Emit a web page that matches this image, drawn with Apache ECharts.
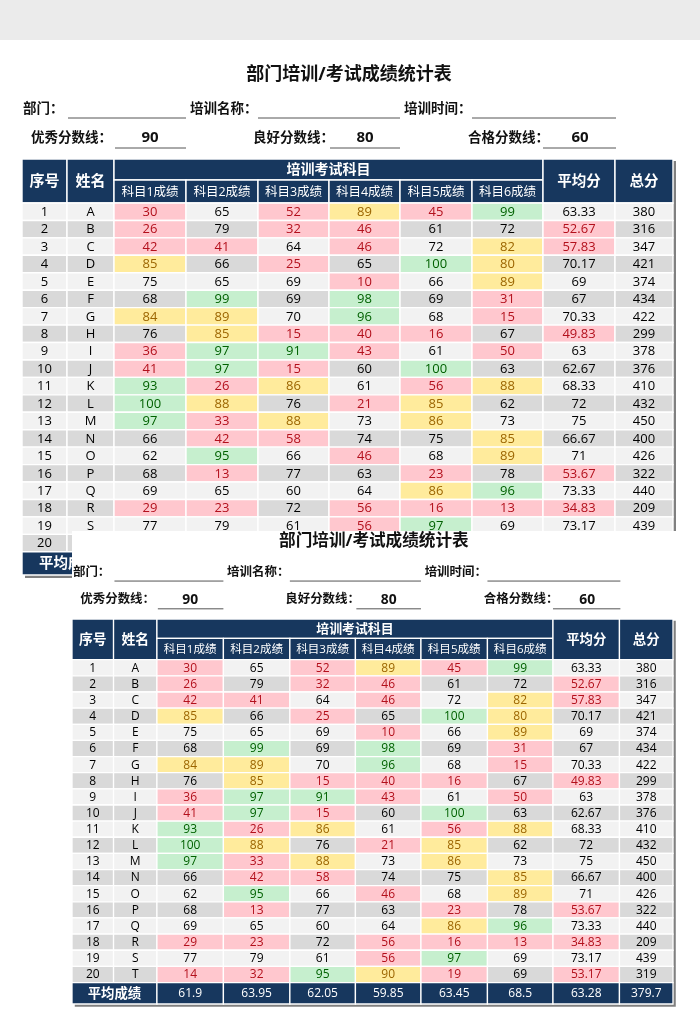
<!DOCTYPE html>
<html><head><meta charset="utf-8">
<script src="https://cdn.jsdelivr.net/npm/echarts@6/dist/echarts.min.js"></script>
<style>html,body{margin:0;padding:0;background:#fff}#c{width:700px;height:1030px}</style>
</head><body><div id="c"></div>
<script>
// ---------------- data ----------------
const titleText = '部门培训/考试成绩统计表';
const formLabels = ['部门：', '培训名称：', '培训时间：'];
const thresholdLabels = ['优秀分数线：', '良好分数线：', '合格分数线：'];
const thresholdValues = [90, 80, 60];
const headerLabels = ['序号', '姓名', '培训考试科目', '平均分', '总分'];
const subjects = ['科目1成绩', '科目2成绩', '科目3成绩', '科目4成绩', '科目5成绩', '科目6成绩'];
const serials = [1,2,3,4,5,6,7,8,9,10,11,12,13,14,15,16,17,18,19,20];
const names = ['A','B','C','D','E','F','G','H','I','J','K','L','M','N','O','P','Q','R','S','T'];
const subject1 = [30,26,42,85,75,68,84,76,36,41,93,100,97,66,62,68,69,29,77,14];
const subject2 = [65,79,41,66,65,99,89,85,97,97,26,88,33,42,95,13,65,23,79,32];
const subject3 = [52,32,64,25,69,69,70,15,91,15,86,76,88,58,66,77,60,72,61,95];
const subject4 = [89,46,46,65,10,98,96,40,43,60,61,21,73,74,46,63,64,56,56,90];
const subject5 = [45,61,72,100,66,69,68,16,61,100,56,85,86,75,68,23,86,16,97,19];
const subject6 = [99,72,82,80,89,31,15,67,50,63,88,62,73,85,89,78,96,13,69,69];
const averages = [63.33,52.67,57.83,70.17,69,67,70.33,49.83,63,62.67,68.33,72,75,66.67,71,53.67,73.33,34.83,73.17,53.17];
const totals = [380,316,347,421,374,434,422,299,378,376,410,432,450,400,426,322,440,209,439,319];
const avgRowLabel = '平均成绩';
const subjectAverages = [61.9,63.95,62.05,59.85,63.45,68.5];
const overallAverage = 63.28;
const totalAverage = 379.7;

// ---------------- layout / style ----------------
const FONT = "'Open Sans','Noto Sans CJK SC',sans-serif";
const NAVY = '#17375E', LIGHT = '#F2F2F2', DARK = '#D9D9D9';
const PINK = '#FFC7CE', RED = '#B3101C', YELLOW = '#FFEB9C', BROWN = '#9C6500', GREEN = '#C6EFCE', GREENTXT = '#006100';
const COL = [0,45,92,164,236,307,378,450,521,593,651];
const HEAD = [0,21,44];
const ROW_H = 17.44;
const TABLE_W = 651, TABLE_H = 416;
const COPIES = [
  {left:22, top:159, sx:1, sy:1, z:1},
  {left:72, top:619, sx:601/651, sy:385/416, z:10}
];

const scoreCols = [subject1, subject2, subject3, subject4, subject5, subject6];
function scoreStyle(v, rowFill) {
  if (v < 60) return [PINK, RED];
  if (v > 90) return [GREEN, GREENTXT];
  if (v >= 80) return [YELLOW, BROWN];
  return [rowFill, '#000'];
}

// build cells
const cells = [];
function add(x0,y0,x1,y1,fill,text,color,size,weight,kind){cells.push({v:[x0,y0,x1,y1],fill,text,color,size,weight,kind});}
add(0,0,TABLE_W,TABLE_H,'#808080','', '#000',0,'normal','shadow');
add(COL[0],HEAD[0],COL[1],HEAD[2],NAVY,headerLabels[0],'#fff',15,'bold');
add(COL[1],HEAD[0],COL[2],HEAD[2],NAVY,headerLabels[1],'#fff',15,'bold');
add(COL[2],HEAD[0],COL[8],HEAD[1],NAVY,headerLabels[2],'#fff',14,'bold');
subjects.forEach((s,k)=>add(COL[2+k],HEAD[1],COL[3+k],HEAD[2],NAVY,s,'#fff',12.5,'normal'));
add(COL[8],HEAD[0],COL[9],HEAD[2],NAVY,headerLabels[3],'#fff',14.5,'bold');
add(COL[9],HEAD[0],COL[10],HEAD[2],NAVY,headerLabels[4],'#fff',14.5,'bold');
serials.forEach((sn,i)=>{
  const y0 = HEAD[2] + i*ROW_H, y1 = y0 + ROW_H;
  const rf = i % 2 === 0 ? LIGHT : DARK;
  add(COL[0],y0,COL[1],y1,rf,String(sn),'#000',13,'normal');
  add(COL[1],y0,COL[2],y1,rf,names[i],'#000',13,'normal');
  scoreCols.forEach((arr,k)=>{
    const st = scoreStyle(arr[i], rf);
    add(COL[2+k],y0,COL[3+k],y1,st[0],String(arr[i]),st[1],13,'normal');
  });
  const a = averages[i];
  add(COL[8],y0,COL[9],y1,a<60?PINK:rf,String(a),a<60?RED:'#000',13,'normal');
  add(COL[9],y0,COL[10],y1,rf,String(totals[i]),'#000',13,'normal');
});
const avgTop = HEAD[2] + serials.length*ROW_H;
add(COL[0],avgTop,COL[2],TABLE_H,NAVY,avgRowLabel,'#fff',14.5,'bold');
subjectAverages.forEach((v,k)=>add(COL[2+k],avgTop,COL[3+k],TABLE_H,NAVY,String(v),'#fff',13,'normal'));
add(COL[8],avgTop,COL[9],TABLE_H,NAVY,String(overallAverage),'#fff',13,'normal');
add(COL[9],avgTop,COL[10],TABLE_H,NAVY,String(totalAverage),'#fff',13,'normal');

function makeRender(s){
  return function(params, api){
    const c = cells[params.dataIndex];
    const p0 = api.coord([api.value(0), api.value(1)]);
    const p1 = api.coord([api.value(2), api.value(3)]);
    const w = p1[0]-p0[0], h = p1[1]-p0[1];
    if (c.kind === 'shadow') {
      return {type:'rect', shape:{x:p0[0]+3*s, y:p0[1]+2*s, width:w, height:h+1*s}, style:{fill:c.fill}};
    }
    return {type:'group', children:[
      {type:'rect', shape:{x:p0[0], y:p0[1], width:w, height:h}, style:{fill:c.fill, stroke:'#ffffff', lineWidth:1.4*s}},
      {type:'text', x:p0[0]+w/2, y:p0[1]+h/2+0.5*s, style:{text:c.text, fill:c.color,
        font:c.weight+' '+(c.size*s).toFixed(2)+'px '+FONT,
        align:'center', verticalAlign:'middle', textAlign:'center', textVerticalAlign:'middle'}}
    ]};
  };
}

// form text layout relative to table origin (copy-1 px)
const FORM = {
  title:{x:327,y:-84,size:18},
  row1Y:-50, row1X:[1,168,382],
  line1Y:-41, line1:[[46,164],[236,378],[450,594]],
  row2Y:-21, row2X:[9,231,446], valX:[128,343,558],
  line2Y:-11, line2:[[93,164],[308,378],[521,594]],
  labelSize:13.5, valSize:15
};

const graphics = [{type:'rect', shape:{x:0,y:0,width:700,height:40}, style:{fill:'#EBEBEB'}, z:0}];
COPIES.forEach((cp,ci)=>{
  const X = rx => cp.left + rx*cp.sx, Y = ry => cp.top + ry*cp.sy, s = cp.sx;
  if (ci === 1) graphics.push({type:'rect', shape:{x:72,y:531,width:628,height:499}, style:{fill:'#ffffff'}, z:5});
  const z = cp.z;
  const txt = (x,y,t,size,align) => ({type:'text', x, y, z, style:{text:t, fill:'#111', font:'bold '+(size*s).toFixed(2)+'px '+FONT, align, verticalAlign:'middle', textAlign:align, textVerticalAlign:'middle'}});
  graphics.push(txt(X(FORM.title.x), Y(FORM.title.y), titleText, FORM.title.size, 'center'));
  formLabels.forEach((t,k)=>graphics.push(txt(X(FORM.row1X[k]), Y(FORM.row1Y), t, FORM.labelSize, 'left')));
  thresholdLabels.forEach((t,k)=>graphics.push(txt(X(FORM.row2X[k]), Y(FORM.row2Y), t, FORM.labelSize, 'left')));
  thresholdValues.forEach((t,k)=>graphics.push(txt(X(FORM.valX[k]), Y(FORM.row2Y), String(t), FORM.valSize, 'center')));
  const ln = (a,b,y) => ({type:'line', z, shape:{x1:X(a), y1:Y(y), x2:X(b), y2:Y(y)}, style:{stroke:'#555', lineWidth:1}});
  FORM.line1.forEach(p=>graphics.push(ln(p[0],p[1],FORM.line1Y)));
  FORM.line2.forEach(p=>graphics.push(ln(p[0],p[1],FORM.line2Y)));
});

const option = {
  animation:false,
  grid: COPIES.map(cp=>({left:cp.left, top:cp.top, width:TABLE_W*cp.sx, height:TABLE_H*cp.sy, containLabel:false})),
  xAxis: COPIES.map((cp,i)=>({type:'value', gridIndex:i, min:0, max:TABLE_W, show:false})),
  yAxis: COPIES.map((cp,i)=>({type:'value', gridIndex:i, min:0, max:TABLE_H, inverse:true, show:false})),
  series: COPIES.map((cp,i)=>({type:'custom', xAxisIndex:i, yAxisIndex:i, z:cp.z, clip:false,
    renderItem:makeRender(cp.sx), data:cells.map(c=>c.v), silent:true})),
  graphic: {elements: graphics}
};
const chart = echarts.init(document.getElementById('c'), null, {renderer:'canvas'});
chart.setOption(option);
</script></body></html>
